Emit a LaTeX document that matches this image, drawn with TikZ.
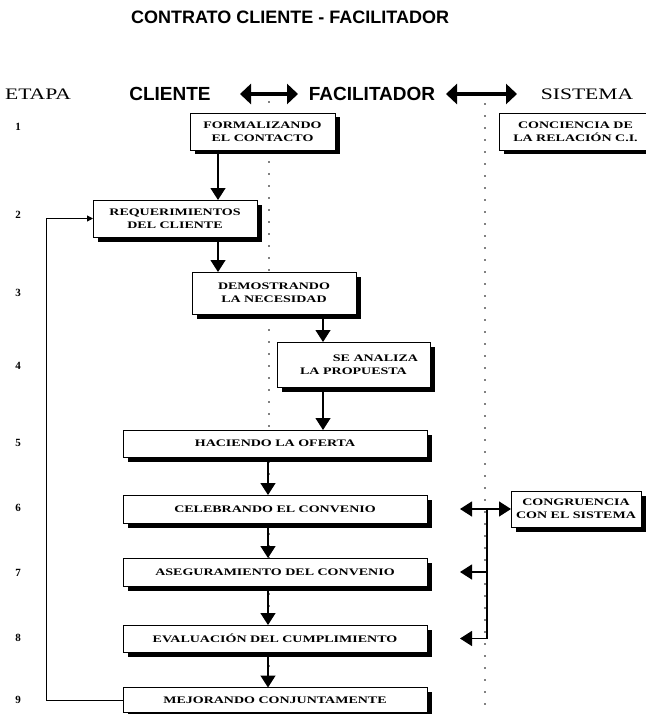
\documentclass[tikz,border=0pt]{standalone}
\usepackage{fontspec}
\setmainfont{Liberation Serif}
\newfontfamily\boxfont[FakeStretch=1.4]{Liberation Serif}
\newfontfamily\hdserif[FakeStretch=1.35]{Liberation Serif}
\newfontfamily\hdsans{Liberation Sans}
\usetikzlibrary{arrows.meta,shadows}
\begin{document}
\begin{tikzpicture}[x=1pt,y=-1pt,
  stagebox/.style={draw=black, line width=0.7pt, fill=white, inner sep=0pt, outer sep=0pt, align=center,
    font=\boxfont\bfseries\fontsize{10}{13}\selectfont,
    drop shadow={shadow xshift=4.5pt, shadow yshift=-4.5pt, fill=black, opacity=1}},
  num/.style={font=\bfseries\fontsize{11}{11}\selectfont},
  flow/.style={line width=1.3pt, -{Triangle[width=15pt,length=12pt]}},
  flowboth/.style={line width=1.3pt, {Triangle[width=15pt,length=12pt]}-{Triangle[width=15pt,length=12pt]}},
  back/.style={line width=1pt, -{Triangle[width=6pt,length=6pt]}},
  dotline/.style={line width=1.8pt, line cap=round, dash pattern=on 0pt off 12pt},
  harrow/.style={line width=3.5pt, {Triangle[width=20pt,length=11pt]}-{Triangle[width=20pt,length=11pt]}},
  hsans/.style={font=\hdsans\bfseries\fontsize{19}{19}\selectfont, inner sep=0pt},
  hserif/.style={font=\hdserif\fontsize{16}{16}\selectfont, inner sep=0pt},
]
\useasboundingbox (0,0) rectangle (645,714);

% title
\node[font=\hdsans\bfseries\fontsize{18}{18}\selectfont, inner sep=0pt] (title) at (290,17) {CONTRATO CLIENTE - FACILITADOR};

% header row
\node[hserif] (etapa) at (38,94) {ETAPA};
\node[hsans] (cliente) at (170,94) {CLIENTE};
\node[hsans] (facil) at (372,94) {FACILITADOR};
\node[hserif] (sistema) at (587,94) {SISTEMA};
\coordinate (ha1) at (240,94);
\coordinate (hb1) at (298,94);
\coordinate (ha2) at (446,94);
\coordinate (hb2) at (517,94);
\draw[harrow] (ha1) -- (hb1);
\draw[harrow] (ha2) -- (hb2);

% dotted column separators
\coordinate (d1t) at (269,102);
\coordinate (d1b) at (269,714);
\coordinate (d2t) at (485,104);
\coordinate (d2b) at (485,714);
\draw[dotline] (d1t) -- (d1b);
\draw[dotline] (d2t) -- (d2b);

% stage numbers
\node[num] (n1) at (18,127) {1};
\node[num] (n2) at (18,215) {2};
\node[num] (n3) at (18,293) {3};
\node[num] (n4) at (18,366) {4};
\node[num] (n5) at (18,443) {5};
\node[num] (n6) at (18,508) {6};
\node[num] (n7) at (18,573) {7};
\node[num] (n8) at (18,638) {8};
\node[num] (n9) at (18,700) {9};

% boxes
\node[stagebox, minimum width=145pt, minimum height=37pt] (F1) at (262.5,131.5) {FORMALIZANDO\\EL CONTACTO};
\node[stagebox, minimum width=153pt, minimum height=37pt] (S1) at (575.5,131.5) {CONCIENCIA DE\\LA RELACIÓN C.I.};
\node[stagebox, minimum width=164pt, minimum height=37pt] (R2) at (175,218.5) {REQUERIMIENTOS\\DEL CLIENTE};
\node[stagebox, minimum width=164pt, minimum height=42pt] (D3) at (274,293) {DEMOSTRANDO\\LA NECESIDAD};
\node[stagebox, minimum width=153pt, minimum height=45pt] (A4) at (353.5,364.5) {\hspace*{44pt}SE ANALIZA\\LA PROPUESTA};
\node[stagebox, minimum width=304pt, minimum height=27pt] (H5) at (275,443.5) {HACIENDO LA OFERTA};
\node[stagebox, minimum width=304pt, minimum height=28pt] (C6) at (275,509) {CELEBRANDO EL CONVENIO};
\node[stagebox, minimum width=130pt, minimum height=36pt] (S6) at (576,509) {CONGRUENCIA\\CON EL SISTEMA};
\node[stagebox, minimum width=304pt, minimum height=28pt] (A7) at (275,572) {ASEGURAMIENTO DEL CONVENIO};
\node[stagebox, minimum width=304pt, minimum height=27pt] (E8) at (275,638.5) {EVALUACIÓN DEL CUMPLIMIENTO};
\node[stagebox, minimum width=304pt, minimum height=25pt] (M9) at (275,700) {MEJORANDO CONJUNTAMENTE};

% flow arrows
\coordinate (xa) at (218,0);
\coordinate (xb) at (323,0);
\coordinate (xc) at (268,0);
\draw[flow] (F1.south -| xa) -- (R2.north -| xa);
\draw[flow] (R2.south -| xa) -- (D3.north -| xa);
\draw[flow] (D3.south -| xb) -- (A4.north -| xb);
\draw[flow] (A4.south -| xb) -- (H5.north -| xb);
\draw[flow] (H5.south -| xc) -- (C6.north -| xc);
\draw[flow] (C6.south -| xc) -- (A7.north -| xc);
\draw[flow] (A7.south -| xc) -- (E8.north -| xc);
\draw[flow] (E8.south -| xc) -- (M9.north -| xc);

% feedback loop
\coordinate (fb) at (46,0);
\draw[back] (M9.west) -- (M9.west -| fb) |- (R2.west);

% system bracket
\coordinate (jx) at (487,0);
\coordinate (tx) at (460,0);
\draw[flowboth] (tx |- C6) -- (S6.west |- C6);
\draw[line width=1.3pt] (jx |- C6) -- (jx |- E8);
\draw[flow] (jx |- A7) -- (tx |- A7);
\draw[flow] (jx |- E8) -- (tx |- E8);
\end{tikzpicture}
\end{document}
